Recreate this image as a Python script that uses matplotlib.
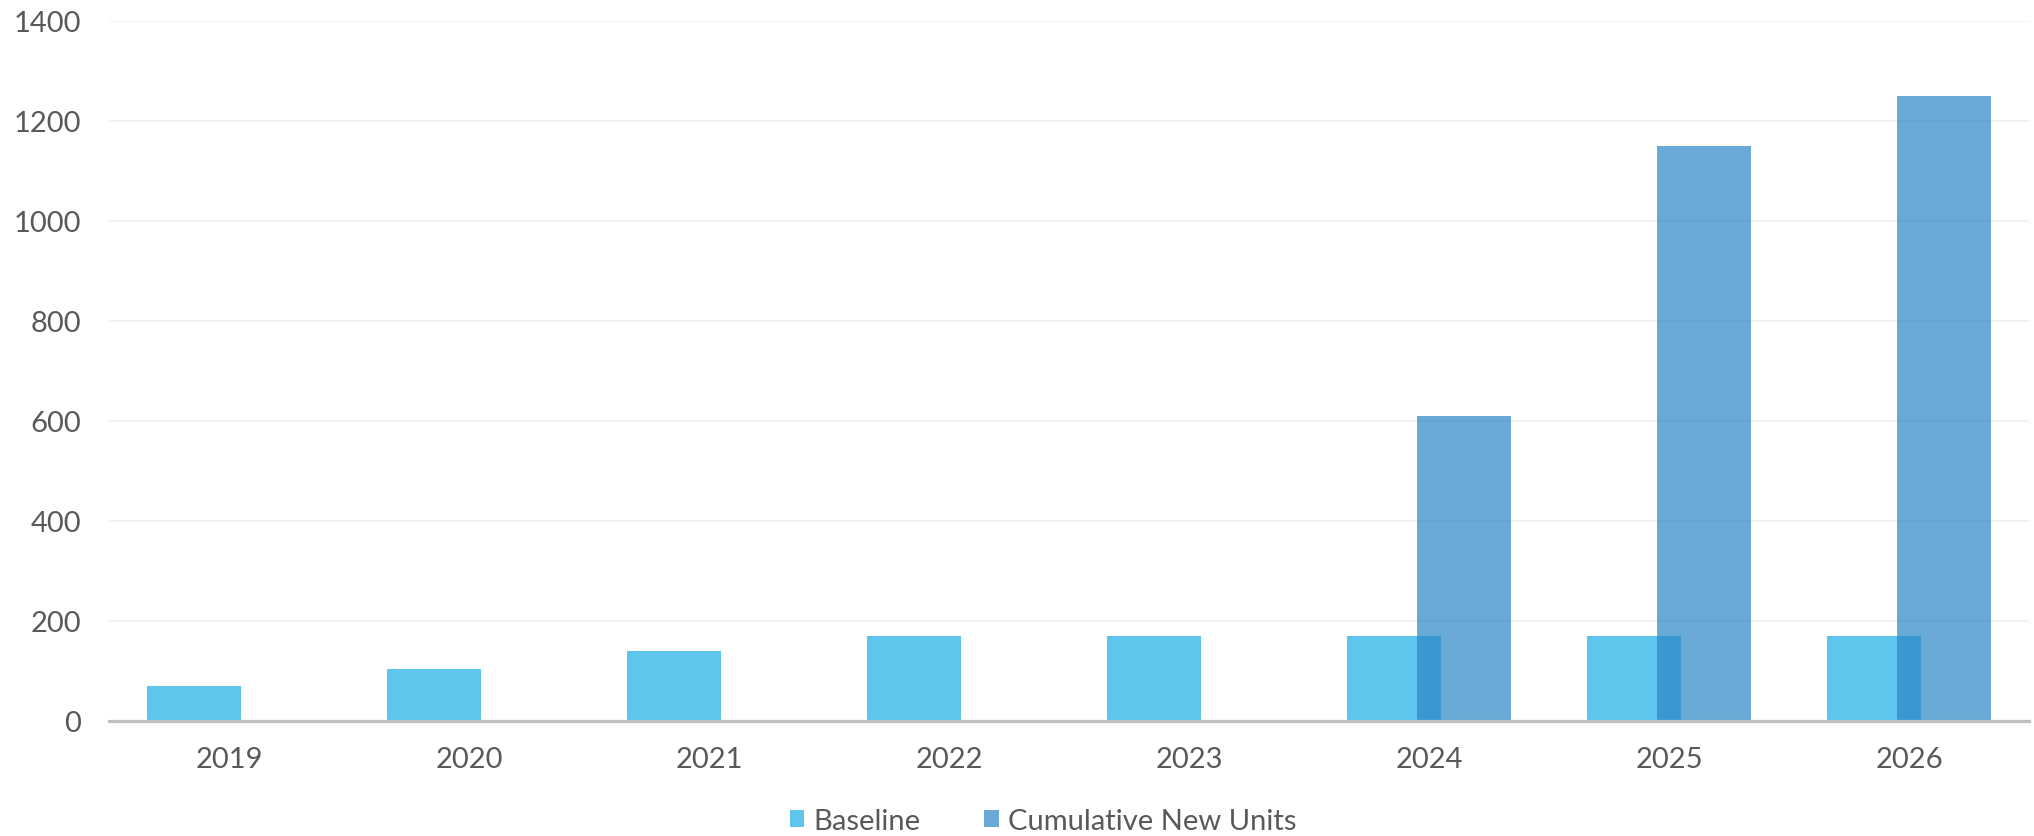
import matplotlib
matplotlib.use("Agg")
import matplotlib.pyplot as plt
from matplotlib.patches import Patch
import numpy as np

years = ["2019", "2020", "2021", "2022", "2023", "2024", "2025", "2026"]
baseline = [70, 103, 140, 170, 170, 170, 170, 170]
cumulative = [0, 0, 0, 0, 0, 610, 1150, 1250]
y_ticks = [0, 200, 400, 600, 800, 1000, 1200, 1400]

base_color = "#5EC5ED"
cum_color = "#2B86C6"
cum_alpha = 0.71
text_color = "#595959"

plt.rcParams['font.family'] = ['Lato', 'DejaVu Sans']

fig = plt.figure(figsize=(20.34, 8.37), dpi=100)
ax = fig.add_axes([109/2034, 1 - 721.7/837, 1920/2034, (721.7 - 21.7)/837])

x = np.arange(len(years))
w = 0.392
off = 0.147
ax.bar(x - off, baseline, width=w, color=base_color, linewidth=0, zorder=2)
ax.bar(x + off, cumulative, width=w, color=cum_color, alpha=cum_alpha, linewidth=0, zorder=3)

ax.set_xlim(-0.5, len(years) - 0.5)
ax.set_ylim(0, 1400)
ax.set_yticks(y_ticks)
ax.set_yticklabels([str(v) for v in y_ticks])
ax.set_xticks(x)
ax.set_xticklabels(years)
ax.tick_params(axis='both', length=0, labelsize=21, colors=text_color)
ax.tick_params(axis='y', pad=20)
ax.tick_params(axis='x', pad=18)

ax.grid(axis='y', color="#F0F0F0", linewidth=1.2, zorder=0)
ax.set_axisbelow(True)
for s in ['top', 'right', 'left']:
    ax.spines[s].set_visible(False)
ax.spines['bottom'].set_color("#BFBFBF")
ax.spines['bottom'].set_linewidth(2.3)
ax.spines['bottom'].set_zorder(4)

handles = [Patch(facecolor=base_color, edgecolor='none', label="Baseline"),
           Patch(facecolor=cum_color, alpha=cum_alpha, edgecolor='none', label="Cumulative New Units")]
leg = fig.legend(handles=handles, loc='center', bbox_to_anchor=(1043/2034, 1 - 822/837),
                 ncol=2, frameon=False, fontsize=21, handlelength=0.5, handleheight=0.5,
                 handletextpad=0.3, columnspacing=2.2, borderpad=0)
for t in leg.get_texts():
    t.set_color(text_color)

fig.savefig("out.png", dpi=100, facecolor="white")
